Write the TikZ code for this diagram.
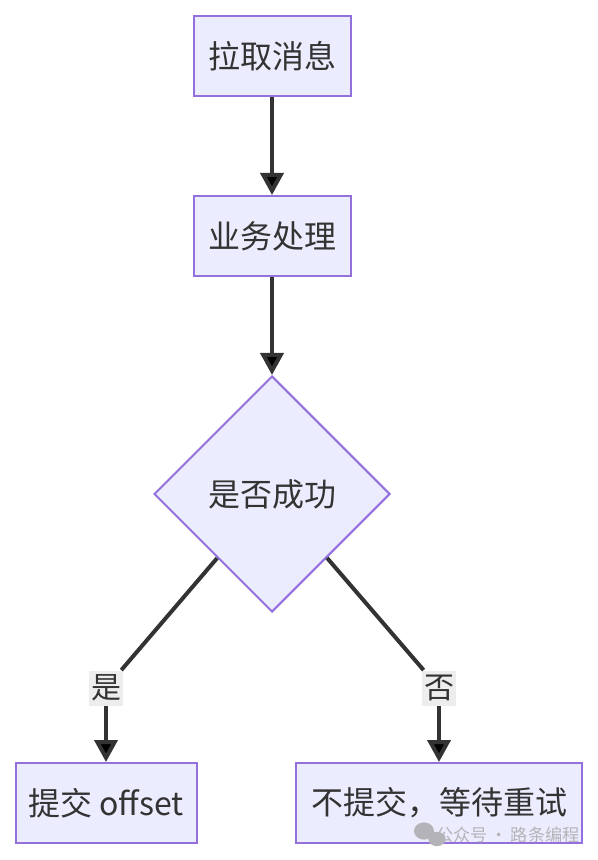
\documentclass[tikz,border=0pt]{standalone}
\usepackage{fontspec}
\setmainfont{Noto Sans CJK SC}
\usetikzlibrary{arrows.meta,positioning,shapes.geometric}

\definecolor{boxfill}{HTML}{ECECFF}
\definecolor{boxline}{HTML}{9370DB}
\definecolor{inkline}{HTML}{333333}
\definecolor{lblfill}{HTML}{E8E8E8}
\definecolor{wmgray}{HTML}{B4B4B8}

\begin{document}
\begin{tikzpicture}
[x=1pt,y=1pt,>={Triangle[length=11pt,width=11.5pt]},font=\fontsize{16pt}{18pt}\selectfont,text=inkline]
\tikzstyle{box}=[rectangle, draw=boxline, line width=1pt, fill=boxfill, minimum width=78.5pt, minimum height=40pt, inner sep=0pt]
\tikzstyle{decide}=[diamond, draw=boxline, line width=1pt, fill=boxfill, aspect=1, minimum width=118pt, minimum height=118pt, inner sep=0pt]
\tikzstyle{lbl}=[rectangle, fill=lblfill, fill opacity=0.8, text opacity=1, inner xsep=1pt, inner ysep=0pt, minimum height=17.5pt, font=\fontsize{15pt}{17pt}\selectfont]
\tikzstyle{flow}=[draw=inkline, line width=2pt]
\tikzstyle{wmark}=[text=wmgray, inner sep=0pt, font=\fontsize{8.6pt}{10pt}\selectfont]

\useasboundingbox (0,0) rectangle (299,-430);

\node[box] (pull_msg) at (136,-28) {拉取消息};
\node[box, node distance=90pt, below of = pull_msg] (do_biz) {业务处理};
\node[decide, node distance=129pt, below of = do_biz] (is_ok) {是否成功};
\node[lbl] (yes_lbl) at (53,-344) {是};
\node[lbl] (no_lbl) at (219.5,-344) {否};
\node[box, minimum width=90.5pt, node distance=57.5pt, below of = yes_lbl] (commit) {提交 offset};
\node[box, minimum width=143pt, node distance=57.5pt, below of = no_lbl] (retry) {不提交，等待重试};

\path[flow,->]
			(pull_msg) 	edge (do_biz)
			(do_biz) 	edge (is_ok)
			(is_ok) 	edge[-] (yes_lbl)
			(yes_lbl) 	edge (commit)
			(is_ok) 	edge[-] (no_lbl)
			(no_lbl) 	edge (retry)
			;

% watermark
\fill[wmgray] (212,-415.5) ellipse (5pt and 4.3pt);
\fill[wmgray] (218.5,-419.5) ellipse (4.3pt and 3.6pt);
\node[wmark] (wm_text) at (254,-417.5) {公众号\,·\,路条编程};
\end{tikzpicture}
\end{document}
